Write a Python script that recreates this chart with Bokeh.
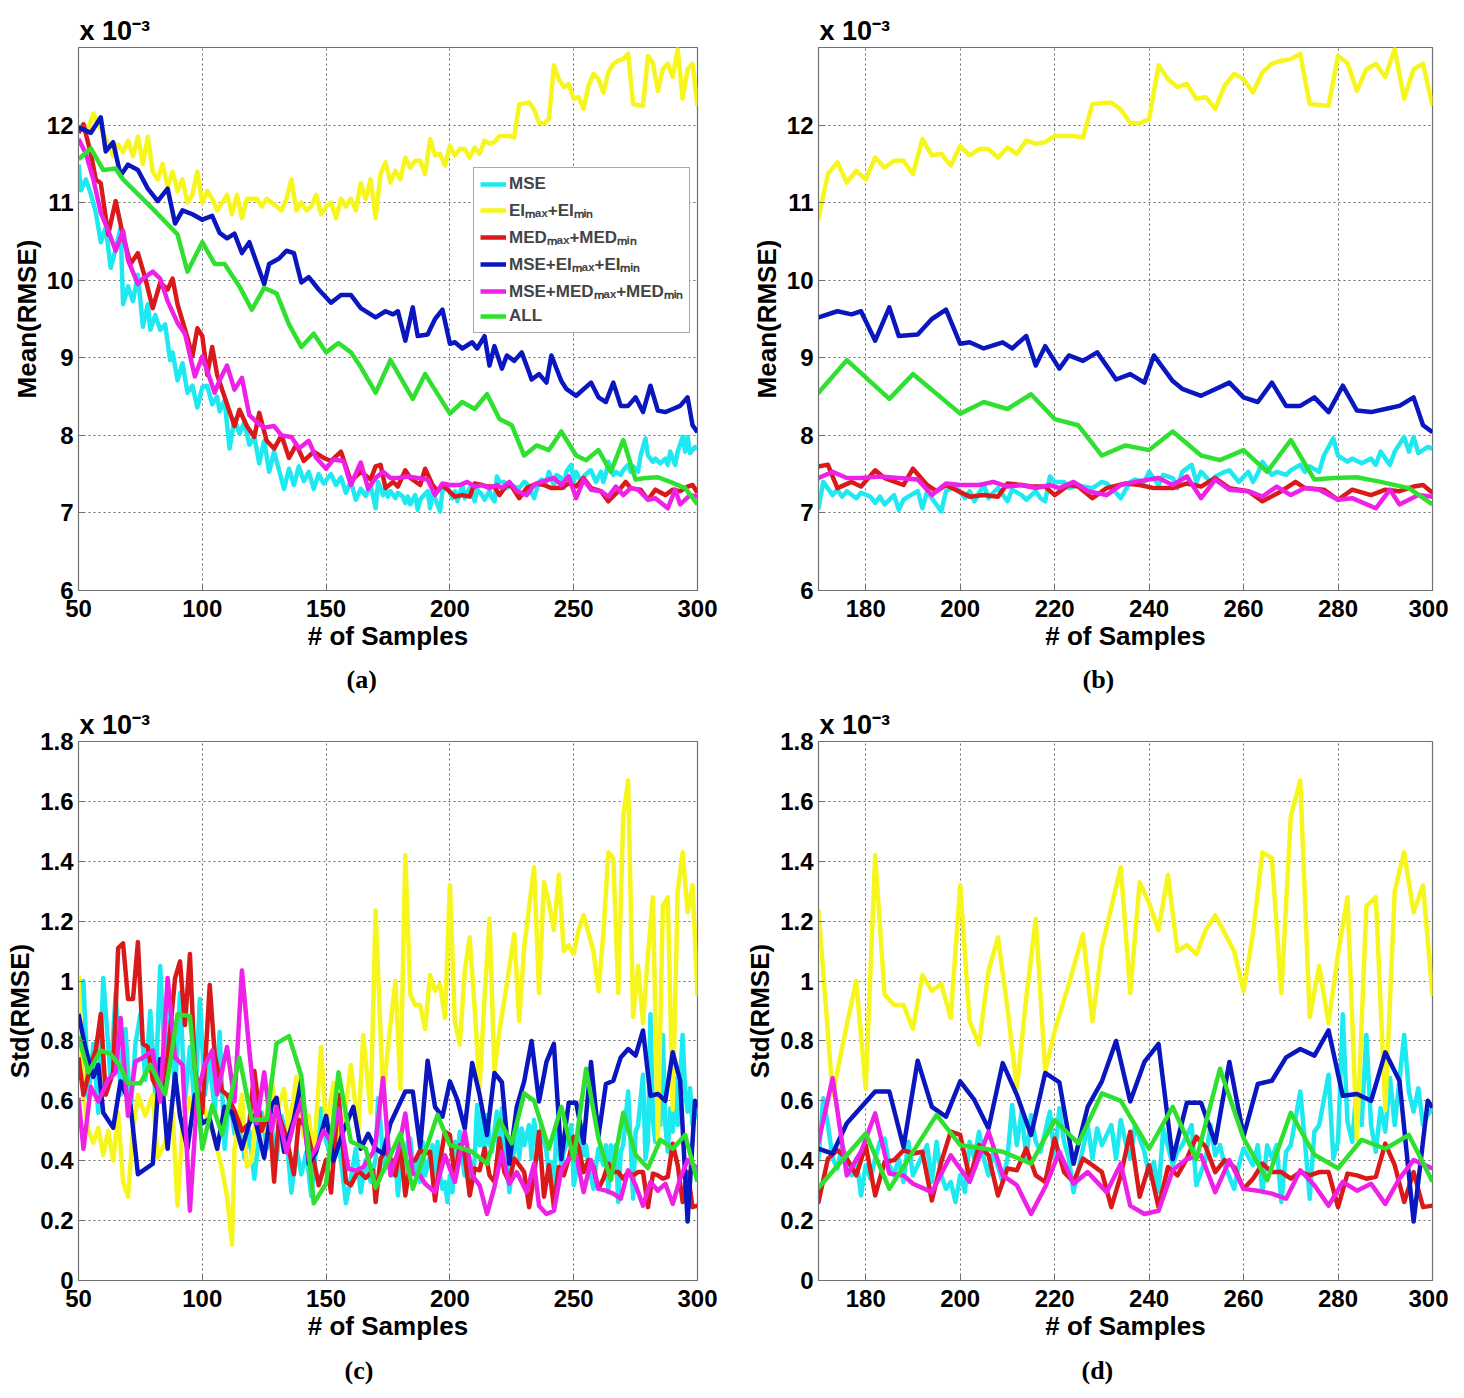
from bokeh.plotting import figure
from bokeh.models import Range1d, FixedTicker, Legend, LegendItem, Title, CustomJSTickFormatter
from bokeh.layouts import column, row
from bokeh.embed import file_html
from bokeh.resources import INLINE

# ---------------- data (x = # of samples, value in units of 1e-3) ----------------
series_names = ["MSE", "EIₘₐₓ+EIₘᵢₙ", "MEDₘₐₓ+MEDₘᵢₙ", "MSE+EIₘₐₓ+EIₘᵢₙ", "MSE+MEDₘₐₓ+MEDₘᵢₙ", "ALL"]
series_colors = ["#1EE8F0", "#F6F61E", "#DA1A1A", "#0A16BE", "#EE22E6", "#30E030"]

mean_mse = [(50, 11.49), (51, 11.16), (53, 11.30), (55, 11.11), (57, 10.87), (59, 10.49), (61, 10.68), (63, 10.16),
            (65, 10.40), (67, 10.68), (68, 9.69), (70, 9.92), (72, 9.73), (74, 10.07), (76, 9.40), (78, 9.69),
            (79, 9.36), (81, 9.55), (83, 9.36), (85, 9.43), (87, 8.97), (88, 9.07), (90, 8.71), (92, 8.93),
            (94, 8.55), (96, 8.64), (98, 8.36), (100, 8.62), (102, 8.64), (104, 8.40), (106, 8.50), (107, 8.31),
            (109, 8.45), (111, 7.83), (113, 8.21), (115, 8.02), (117, 8.17), (119, 7.88), (121, 7.98), (123, 7.64),
            (125, 7.93), (127, 7.53), (129, 7.79), (131, 7.55), (133, 7.31), (135, 7.57), (137, 7.36), (139, 7.60),
            (141, 7.41), (143, 7.53), (145, 7.31), (147, 7.50), (149, 7.38), (152, 7.50), (154, 7.36), (156, 7.46),
            (158, 7.26), (160, 7.41), (162, 7.17), (164, 7.31), (166, 7.22), (168, 7.36), (170, 7.06), (171, 7.40),
            (173, 7.23), (174, 7.30), (175, 7.21), (176, 7.28), (178, 7.19), (179, 7.26), (181, 7.21), (182, 7.13),
            (183, 7.21), (184, 7.11), (186, 7.23), (187, 7.04), (188, 7.17), (189, 7.21), (191, 7.28), (192, 7.06),
            (193, 7.28), (194, 7.19), (196, 7.02), (197, 7.28), (198, 7.32), (199, 7.34), (201, 7.19), (202, 7.28),
            (203, 7.15), (205, 7.36), (206, 7.19), (207, 7.26), (208, 7.32), (210, 7.15), (211, 7.30), (213, 7.23),
            (214, 7.17), (216, 7.28), (217, 7.19), (218, 7.15), (219, 7.47), (220, 7.40), (222, 7.40), (223, 7.32),
            (225, 7.36), (226, 7.34), (228, 7.32), (230, 7.40), (231, 7.38), (233, 7.26), (234, 7.19), (236, 7.40),
            (237, 7.43), (239, 7.40), (240, 7.53), (242, 7.36), (243, 7.49), (245, 7.45), (246, 7.32), (247, 7.53),
            (249, 7.62), (250, 7.40), (251, 7.53), (253, 7.40), (254, 7.47), (256, 7.53), (257, 7.55), (259, 7.40),
            (261, 7.53), (262, 7.40), (263, 7.51), (264, 7.66), (266, 7.49), (267, 7.53), (269, 7.49), (270, 7.55),
            (272, 7.62), (273, 7.53), (274, 7.60), (276, 7.53), (277, 7.74), (279, 7.96), (280, 7.74), (282, 7.66),
            (283, 7.70), (285, 7.64), (287, 7.70), (288, 7.62), (289, 7.79), (291, 7.62), (292, 7.79), (294, 7.98),
            (295, 7.79), (296, 7.98), (297, 7.77), (299, 7.85), (300, 7.83)]

mean_ei = [(50, 11.95), (52, 12.0), (54, 11.95), (56, 12.15), (58, 12.0), (60, 11.9), (62, 11.75), (64, 11.6),
           (66, 11.75), (68, 11.65), (70, 11.8), (72, 11.6), (74, 11.85), (76, 11.5), (78, 11.85), (80, 11.4),
           (82, 11.3), (84, 11.5), (86, 11.2), (88, 11.4), (90, 11.15), (92, 11.3), (94, 11.0), (96, 11.1),
           (98, 11.4), (100, 11.0), (102, 11.15), (104, 11.05), (106, 10.9), (108, 11.0), (110, 11.1), (112, 10.85),
           (114, 11.1), (116, 10.8), (118, 11.05), (120, 11.05), (122, 11.05), (124, 10.95), (126, 11.05), (128, 11.0),
           (130, 10.95), (132, 10.9), (134, 11.05), (136, 11.3), (138, 10.9), (140, 11.0), (142, 10.9), (144, 10.95),
           (146, 11.1), (148, 10.85), (150, 10.95), (152, 11.0), (154, 10.8), (156, 11.05), (158, 10.95), (160, 11.05),
           (162, 10.9), (164, 11.25), (166, 11.05), (168, 11.3), (170, 10.8), (172, 11.37), (174, 11.52), (176, 11.26),
           (178, 11.41), (180, 11.30), (182, 11.58), (184, 11.45), (186, 11.54), (188, 11.54), (190, 11.37), (192, 11.82),
           (194, 11.61), (196, 11.63), (198, 11.48), (200, 11.73), (202, 11.61), (204, 11.69), (206, 11.69), (208, 11.58),
           (210, 11.71), (212, 11.63), (214, 11.80), (216, 11.76), (218, 11.78), (220, 11.86), (222, 11.86), (224, 11.86),
           (226, 11.84), (228, 12.27), (230, 12.28), (232, 12.29), (234, 12.2), (236, 12.03), (238, 12.02), (240, 12.08),
           (242, 12.77), (244, 12.59), (246, 12.49), (248, 12.53), (250, 12.34), (252, 12.36), (254, 12.21), (256, 12.51),
           (258, 12.66), (260, 12.59), (262, 12.42), (264, 12.68), (266, 12.79), (268, 12.83), (270, 12.85), (272, 12.92),
           (274, 12.27), (276, 12.26), (278, 12.25), (280, 12.89), (282, 12.80), (284, 12.44), (286, 12.72), (288, 12.79),
           (290, 12.62), (292, 12.98), (294, 12.34), (296, 12.72), (298, 12.79), (300, 12.25)]

mean_med = [(50, 11.9), (52, 12.01), (55, 11.63), (57, 11.3), (59, 11.25), (62, 10.59), (65, 11.02), (68, 10.57),
            (71, 10.21), (74, 10.35), (77, 10.02), (80, 9.64), (83, 9.97), (86, 9.88), (88, 10.02), (90, 9.69),
            (94, 9.26), (96, 9.02), (98, 9.38), (100, 9.28), (102, 8.78), (104, 9.14), (106, 8.78), (110, 8.40),
            (113, 8.12), (115, 8.33), (118, 8.12), (121, 7.98), (123, 8.29), (126, 7.93), (129, 7.83), (132, 8.0),
            (135, 7.71), (138, 7.88), (141, 7.67), (145, 7.79), (149, 7.71), (152, 7.67), (156, 7.79), (160, 7.41),
            (164, 7.53), (168, 7.43), (170, 7.6), (172, 7.62), (174, 7.32), (177, 7.4), (179, 7.34), (182, 7.55),
            (184, 7.45), (188, 7.36), (190, 7.57), (193, 7.36), (195, 7.28), (197, 7.36), (199, 7.3), (202, 7.21),
            (205, 7.23), (208, 7.21), (210, 7.38), (213, 7.36), (215, 7.34), (218, 7.34), (220, 7.23), (223, 7.36),
            (225, 7.34), (228, 7.19), (231, 7.32), (235, 7.38), (238, 7.36), (241, 7.32), (245, 7.32), (248, 7.38),
            (251, 7.34), (254, 7.45), (257, 7.32), (261, 7.28), (264, 7.15), (268, 7.28), (271, 7.40), (273, 7.32),
            (277, 7.30), (280, 7.17), (283, 7.30), (287, 7.23), (290, 7.30), (293, 7.28), (296, 7.34), (298, 7.36),
            (300, 7.26)]

mean_mse_ei = [(50, 11.97), (55, 11.9), (59, 12.1), (61, 11.66), (64, 11.78), (67, 11.35), (70, 11.49), (74, 11.42),
               (78, 11.18), (82, 11.02), (86, 11.18), (89, 10.73), (92, 10.9), (96, 10.85), (100, 10.78), (104, 10.83),
               (107, 10.61), (110, 10.54), (113, 10.6), (116, 10.35), (119, 10.49), (125, 9.95), (127, 10.21),
               (131, 10.28), (134, 10.38), (137, 10.35), (140, 9.97), (143, 10.04), (147, 9.88), (152, 9.71),
               (156, 9.81), (160, 9.81), (164, 9.64), (170, 9.52), (174, 9.6), (177, 9.56), (179, 9.6), (182, 9.22),
               (185, 9.65), (187, 9.28), (191, 9.3), (194, 9.5), (197, 9.62), (200, 9.18), (202, 9.2), (205, 9.12),
               (209, 9.2), (211, 9.12), (214, 9.28), (216, 8.9), (218, 9.15), (221, 8.86), (223, 9.03), (226, 8.96),
               (229, 9.07), (232, 8.81), (233, 8.72), (236, 8.79), (239, 8.68), (241, 9.03), (245, 8.70), (247, 8.60),
               (251, 8.51), (257, 8.68), (260, 8.49), (263, 8.43), (266, 8.68), (269, 8.38), (272, 8.38), (275, 8.49),
               (278, 8.30), (281, 8.64), (284, 8.32), (287, 8.30), (290, 8.34), (293, 8.38), (296, 8.49), (298, 8.13),
               (300, 8.04)]

mean_mse_med = [(50, 11.82), (53, 11.63), (56, 11.3), (59, 10.87), (62, 10.64), (65, 10.38), (68, 10.64), (70, 10.26),
                (74, 9.95), (76, 10.02), (80, 10.11), (83, 10.02), (86, 9.73), (90, 9.45), (93, 9.31), (97, 8.76),
                (100, 9.02), (105, 8.55), (107, 8.71), (110, 8.9), (113, 8.59), (116, 8.74), (119, 8.26), (122, 8.17),
                (125, 8.1), (129, 8.12), (132, 8.0), (136, 7.98), (139, 7.83), (143, 7.93), (146, 7.71), (150, 7.57),
                (153, 7.69), (157, 7.67), (160, 7.36), (164, 7.65), (167, 7.31), (170, 7.45), (173, 7.53), (176, 7.45),
                (179, 7.45), (183, 7.47), (187, 7.45), (191, 7.43), (194, 7.23), (197, 7.38), (200, 7.36), (204, 7.36),
                (207, 7.40), (210, 7.34), (213, 7.36), (216, 7.32), (219, 7.36), (221, 7.32), (224, 7.40), (227, 7.28),
                (231, 7.23), (234, 7.36), (237, 7.40), (242, 7.45), (245, 7.36), (248, 7.47), (251, 7.19), (254, 7.43),
                (257, 7.30), (261, 7.28), (264, 7.21), (267, 7.34), (270, 7.23), (273, 7.32), (276, 7.30), (280, 7.17),
                (283, 7.19), (288, 7.06), (291, 7.30), (293, 7.11), (297, 7.23), (300, 7.21)]

mean_all = [(50, 11.56), (55, 11.7), (60, 11.42), (65, 11.44), (68, 11.3), (74, 11.11), (80, 10.92), (90, 10.59),
            (94, 10.11), (100, 10.49), (105, 10.21), (109, 10.21), (115, 9.92), (120, 9.62), (125, 9.9), (130, 9.83),
            (135, 9.43), (140, 9.14), (145, 9.31), (150, 9.07), (155, 9.19), (160, 9.07), (164, 8.88), (170, 8.55),
            (176, 8.97), (185, 8.47), (190, 8.79), (200, 8.28), (205, 8.43), (210, 8.34), (215, 8.53), (220, 8.21),
            (225, 8.13), (230, 7.74), (235, 7.87), (240, 7.81), (245, 8.05), (251, 7.74), (255, 7.68), (260, 7.81),
            (265, 7.53), (270, 7.94), (275, 7.43), (279, 7.45), (284, 7.46), (289, 7.40), (295, 7.32), (300, 7.11)]

std_mse = [(50, 0.85), (52, 1.0), (54, 0.61), (56, 0.79), (58, 0.56), (60, 1.01), (63, 0.67), (65, 0.96), (67, 0.62),
           (69, 0.84), (71, 0.56), (73, 0.79), (75, 0.89), (77, 0.67), (79, 0.90), (81, 0.62), (83, 1.05), (85, 0.695),
           (87, 0.90), (89, 0.62), (91, 0.96), (93, 0.598), (95, 0.78), (97, 0.574), (99, 0.94), (101, 0.62),
           (103, 0.744), (105, 0.56), (107, 0.83), (109, 0.44), (111, 0.62), (113, 0.49), (115, 0.55), (117, 0.41),
           (119, 0.50), (121, 0.34), (124, 0.56), (126, 0.44), (128, 0.513), (130, 0.403), (132, 0.55), (134, 0.477),
           (136, 0.294), (138, 0.44), (140, 0.355), (142, 0.428), (144, 0.282), (146, 0.44), (148, 0.574), (150, 0.464),
           (152, 0.415), (154, 0.50), (156, 0.403), (158, 0.258), (160, 0.343), (162, 0.44), (164, 0.294), (166, 0.403),
           (168, 0.33), (170, 0.407), (171, 0.609), (172, 0.519), (173, 0.407), (174, 0.374), (175, 0.452), (177, 0.351),
           (178, 0.407), (179, 0.284), (180, 0.385), (181, 0.34), (182, 0.407), (183, 0.463), (184, 0.474), (185, 0.385),
           (186, 0.351), (187, 0.407), (188, 0.329), (189, 0.463), (190, 0.351), (191, 0.385), (193, 0.452), (194, 0.329),
           (195, 0.463), (196, 0.351), (197, 0.306), (198, 0.329), (199, 0.262), (200, 0.351), (201, 0.295), (202, 0.463),
           (203, 0.407), (204, 0.497), (205, 0.407), (206, 0.351), (207, 0.43), (209, 0.329), (210, 0.407), (211, 0.586),
           (212, 0.452), (213, 0.564), (214, 0.407), (215, 0.553), (216, 0.463), (217, 0.43), (219, 0.564), (220, 0.407),
           (221, 0.575), (222, 0.463), (223, 0.407), (224, 0.295), (226, 0.441), (227, 0.519), (228, 0.407), (229, 0.508),
           (230, 0.452), (232, 0.519), (233, 0.407), (234, 0.536), (235, 0.463), (236, 0.407), (237, 0.519), (239, 0.43),
           (240, 0.351), (241, 0.396), (242, 0.295), (243, 0.508), (245, 0.385), (246, 0.43), (247, 0.452), (249, 0.519),
           (250, 0.318), (252, 0.407), (253, 0.519), (254, 0.418), (255, 0.452), (256, 0.385), (258, 0.306), (259, 0.385),
           (260, 0.441), (262, 0.385), (263, 0.452), (264, 0.295), (265, 0.452), (266, 0.407), (267, 0.452), (268, 0.262),
           (269, 0.43), (270, 0.452), (272, 0.631), (273, 0.463), (274, 0.273), (275, 0.497), (276, 0.519), (278, 0.687),
           (279, 0.407), (280, 0.463), (281, 0.889), (282, 0.53), (283, 0.463), (284, 0.653), (285, 0.519), (286, 0.82),
           (287, 0.519), (288, 0.43), (289, 0.575), (290, 0.497), (291, 0.676), (292, 0.519), (294, 0.82), (295, 0.631),
           (296, 0.564), (297, 0.642), (298, 0.519), (299, 0.553), (300, 0.575)]

std_ei = [(50, 1.02), (52, 0.62), (54, 0.50), (56, 0.46), (58, 0.51), (60, 0.42), (62, 0.50), (64, 0.40), (66, 0.56),
          (68, 0.33), (70, 0.28), (72, 0.50), (74, 0.62), (77, 0.55), (80, 0.62), (82, 0.41), (85, 0.46), (88, 0.56),
          (90, 0.25), (92, 0.51), (95, 0.61), (97, 0.52), (100, 0.60), (102, 0.54), (104, 0.50), (106, 0.44), (108, 0.37),
          (110, 0.28), (112, 0.12), (113, 0.44), (116, 0.62), (118, 0.38), (120, 0.40), (122, 0.585), (125, 0.50),
          (128, 0.67), (130, 0.56), (133, 0.64), (135, 0.50), (138, 0.68), (141, 0.48), (143, 0.55), (145, 0.41),
          (148, 0.78), (150, 0.50), (153, 0.66), (155, 0.46), (157, 0.52), (160, 0.72), (163, 0.50), (165, 0.82),
          (168, 0.56), (170, 1.236), (173, 0.62), (176, 0.855), (178, 1.0), (180, 0.64), (182, 1.42), (184, 0.955),
          (186, 0.92), (188, 0.92), (190, 0.84), (192, 1.02), (194, 0.967), (196, 0.99), (198, 0.877), (200, 1.32),
          (202, 0.866), (204, 0.788), (206, 1.034), (208, 1.146), (210, 0.911), (212, 0.642), (214, 0.945), (216, 1.208),
          (218, 0.698), (220, 0.833), (223, 0.99), (226, 1.157), (228, 0.866), (230, 1.113), (234, 1.38), (236, 0.96),
          (238, 1.33), (240, 1.26), (242, 1.17), (244, 1.355), (246, 1.10), (248, 1.12), (250, 1.09), (252, 1.17),
          (254, 1.22), (256, 1.16), (258, 1.10), (260, 0.966), (262, 1.16), (264, 1.43), (266, 1.41), (268, 0.96),
          (270, 1.55), (272, 1.67), (274, 0.88), (276, 1.05), (278, 0.86), (280, 1.09), (282, 1.28), (284, 0.47),
          (286, 1.25), (288, 1.28), (290, 0.57), (292, 1.30), (294, 1.43), (296, 1.23), (298, 1.32), (300, 0.95)]

std_med = [(50, 0.745), (52, 0.62), (55, 0.72), (57, 0.77), (59, 0.89), (61, 0.62), (64, 0.695), (66, 1.11), (68, 1.126),
           (70, 0.94), (72, 0.94), (74, 1.13), (76, 0.79), (78, 0.78), (80, 0.67), (83, 0.62), (86, 0.745), (89, 1.01),
           (91, 1.066), (93, 0.853), (95, 1.09), (97, 0.707), (100, 0.56), (103, 0.987), (105, 0.756), (108, 0.634),
           (110, 0.62), (113, 0.567), (116, 0.50), (119, 0.525), (121, 0.70), (124, 0.50), (127, 0.567), (129, 0.33),
           (131, 0.55), (134, 0.477), (137, 0.355), (139, 0.537), (142, 0.513), (145, 0.403), (147, 0.318), (150, 0.403),
           (152, 0.294), (155, 0.62), (158, 0.33), (160, 0.318), (163, 0.367), (166, 0.343), (169, 0.367), (170, 0.262),
           (172, 0.407), (174, 0.435), (176, 0.407), (178, 0.351), (180, 0.452), (182, 0.284), (184, 0.396), (186, 0.402),
           (188, 0.435), (190, 0.424), (192, 0.43), (194, 0.267), (196, 0.396), (198, 0.497), (200, 0.486), (202, 0.34),
           (204, 0.452), (206, 0.418), (208, 0.284), (210, 0.374), (212, 0.368), (214, 0.441), (216, 0.351), (218, 0.329),
           (220, 0.474), (222, 0.362), (224, 0.329), (226, 0.407), (228, 0.385), (230, 0.362), (232, 0.245), (234, 0.351),
           (236, 0.497), (238, 0.28), (240, 0.385), (242, 0.245), (244, 0.379), (246, 0.351), (248, 0.407), (250, 0.48),
           (252, 0.446), (254, 0.362), (256, 0.402), (258, 0.379), (260, 0.306), (262, 0.34), (264, 0.39), (266, 0.362),
           (268, 0.362), (270, 0.34), (272, 0.362), (274, 0.351), (276, 0.362), (278, 0.362), (280, 0.245), (282, 0.357),
           (284, 0.351), (286, 0.34), (288, 0.346), (290, 0.457), (292, 0.385), (294, 0.262), (296, 0.362), (298, 0.245),
           (300, 0.25)]

std_mse_ei = [(50, 0.89), (53, 0.77), (56, 0.68), (58, 0.72), (60, 0.56), (64, 0.51), (67, 0.665), (71, 0.585),
              (74, 0.355), (80, 0.39), (83, 0.74), (86, 0.44), (89, 0.69), (91, 0.55), (94, 0.44), (97, 0.62),
              (100, 0.525), (103, 0.54), (106, 0.44), (109, 0.58), (112, 0.56), (116, 0.44), (119, 0.525), (121, 0.55),
              (125, 0.41), (128, 0.585), (130, 0.61), (133, 0.43), (137, 0.54), (140, 0.67), (143, 0.39), (146, 0.43),
              (150, 0.55), (153, 0.40), (157, 0.50), (161, 0.58), (164, 0.44), (167, 0.49), (170, 0.44), (173, 0.424),
              (176, 0.525), (182, 0.631), (185, 0.631), (188, 0.446), (191, 0.734), (194, 0.58), (197, 0.547),
              (200, 0.665), (203, 0.603), (206, 0.508), (209, 0.726), (212, 0.62), (215, 0.486), (218, 0.693),
              (221, 0.662), (224, 0.39), (227, 0.58), (230, 0.665), (233, 0.8), (236, 0.598), (239, 0.73), (242, 0.79),
              (245, 0.405), (248, 0.594), (251, 0.594), (254, 0.46), (257, 0.73), (260, 0.482), (263, 0.656),
              (266, 0.667), (269, 0.745), (272, 0.773), (275, 0.751), (278, 0.835), (281, 0.617), (284, 0.623),
              (287, 0.60), (290, 0.762), (293, 0.667), (296, 0.197), (299, 0.60), (300, 0.578)]

std_mse_med = [(50, 0.61), (52, 0.44), (55, 0.646), (58, 0.598), (60, 0.634), (62, 0.67), (65, 0.695), (67, 0.877),
               (70, 0.55), (73, 0.731), (76, 0.744), (80, 0.768), (83, 0.598), (86, 1.01), (89, 0.744), (92, 0.72),
               (95, 0.233), (98, 0.622), (101, 0.72), (104, 0.768), (106, 0.622), (110, 0.78), (113, 0.598),
               (116, 1.035), (119, 0.768), (122, 0.525), (125, 0.695), (128, 0.50), (130, 0.58), (134, 0.428),
               (137, 0.525), (140, 0.598), (143, 0.403), (146, 0.44), (149, 0.50), (152, 0.464), (155, 0.574),
               (159, 0.373), (162, 0.367), (165, 0.379), (169, 0.428), (170, 0.463), (173, 0.676), (176, 0.351),
               (179, 0.43), (182, 0.558), (185, 0.357), (188, 0.351), (190, 0.323), (194, 0.295), (198, 0.418),
               (202, 0.329), (206, 0.497), (209, 0.351), (212, 0.318), (215, 0.222), (218, 0.312), (221, 0.43),
               (224, 0.323), (227, 0.362), (231, 0.295), (234, 0.39), (236, 0.25), (239, 0.222), (242, 0.233),
               (245, 0.368), (248, 0.407), (251, 0.418), (254, 0.295), (257, 0.402), (260, 0.306), (263, 0.30),
               (266, 0.29), (269, 0.273), (272, 0.368), (275, 0.318), (278, 0.25), (281, 0.329), (284, 0.30),
               (287, 0.323), (290, 0.256), (293, 0.34), (296, 0.402), (300, 0.374)]

std_all = [(50, 0.816), (54, 0.695), (59, 0.768), (63, 0.756), (67, 0.713), (70, 0.659), (75, 0.659), (79, 0.72),
           (85, 0.622), (90, 0.889), (95, 0.883), (100, 0.44), (104, 0.585), (108, 0.488), (115, 0.744), (120, 0.537),
           (126, 0.537), (130, 0.792), (135, 0.816), (140, 0.683), (145, 0.258), (150, 0.324), (155, 0.695),
           (160, 0.464), (166, 0.44), (170, 0.31), (180, 0.491), (185, 0.306), (195, 0.553), (200, 0.452), (203, 0.446),
           (209, 0.43), (215, 0.39), (220, 0.536), (225, 0.458), (230, 0.625), (234, 0.6), (240, 0.44), (245, 0.58),
           (250, 0.405), (255, 0.707), (260, 0.475), (265, 0.335), (270, 0.56), (275, 0.42), (280, 0.375), (285, 0.47),
           (290, 0.44), (295, 0.486), (300, 0.33)]

mean_series = [mean_mse, mean_ei, mean_med, mean_mse_ei, mean_mse_med, mean_all]
std_series = [std_mse, std_ei, std_med, std_mse_ei, std_mse_med, std_all]

mean_ticks = [6, 7, 8, 9, 10, 11, 12]
std_ticks = [0, 0.2, 0.4, 0.6, 0.8, 1.0, 1.2, 1.4, 1.6, 1.8]
full_xticks = [50, 100, 150, 200, 250, 300]
zoom_xticks = [180, 200, 220, 240, 260, 280, 300]

FONT = "Liberation Sans"
FRAME = "#707070"


def make_panel(series, x_rng, y_rng, xticks, yticks, ylabel, caption, cap_offset, cap_standoff,
               width, mbl, mbr, height, mbt, mbb, legend=False, std=False):
    p = figure(width=width, height=height, x_range=Range1d(*x_rng), y_range=Range1d(*y_rng),
               output_backend="svg", toolbar_location=None,
               min_border_left=mbl, min_border_right=mbr, min_border_top=mbt, min_border_bottom=mbb)
    p.background_fill_color = "white"
    p.border_fill_color = "white"
    p.outline_line_color = FRAME
    p.outline_line_width = 1.2

    p.title.text = "x 10⁻³"
    p.title.align = "left"
    p.title.offset = 1
    p.title.standoff = 3
    p.title.text_font = FONT
    p.title.text_font_size = "27px"
    p.title.text_font_style = "bold"
    p.title.text_color = "black"

    renderers = []
    for data, color in zip(series, series_colors):
        xs = [a for a, b in data]
        ys = [b for a, b in data]
        r = p.line(xs, ys, line_color=color, line_width=4.5, line_join="round")
        renderers.append(r)

    p.xaxis.ticker = FixedTicker(ticks=xticks)
    p.yaxis.ticker = FixedTicker(ticks=yticks)
    if std:
        p.yaxis.formatter = CustomJSTickFormatter(code="return (Math.round(tick*10)/10).toString();")
    p.xaxis.axis_label = "# of Samples"
    p.yaxis.axis_label = ylabel
    for ax in (p.xaxis, p.yaxis):
        ax.axis_line_color = FRAME
        ax.major_tick_line_color = FRAME
        ax.major_tick_in = 6
        ax.major_tick_out = 0
        ax.minor_tick_line_color = None
        ax.major_label_text_font = FONT
        ax.major_label_text_font_size = "24px"
        ax.major_label_text_font_style = "bold"
        ax.major_label_text_color = "black"
        ax.axis_label_text_font = FONT
        ax.axis_label_text_font_size = "26px"
        ax.axis_label_text_font_style = "bold"
        ax.axis_label_text_color = "black"
    p.xaxis.major_label_standoff = 9
    p.xaxis.axis_label_standoff = 1
    p.yaxis.major_label_standoff = 5
    p.yaxis.axis_label_standoff = 2

    for g in (p.xgrid, p.ygrid):
        g.grid_line_color = "#505050"
        g.grid_line_dash = "2 3"
        g.grid_line_width = 1
        g.grid_line_alpha = 0.85

    p.add_layout(Title(text=caption, align="left", offset=cap_offset, standoff=cap_standoff,
                       text_font="Liberation Serif", text_font_size="26px", text_font_style="bold",
                       text_color="black"), "below")

    if legend:
        items = [LegendItem(label=n, renderers=[r]) for n, r in zip(series_names, renderers)]
        lg = Legend(items=items, location=(395, 257))
        lg.margin = 0
        lg.padding = 6
        lg.spacing = 4
        lg.glyph_width = 26
        lg.glyph_height = 20
        lg.label_height = 20
        lg.label_standoff = 3
        lg.label_text_font = FONT
        lg.label_text_font_size = "17px"
        lg.label_text_font_style = "bold"
        lg.border_line_color = "#555555"
        lg.border_line_width = 1
        lg.background_fill_color = "white"
        lg.background_fill_alpha = 1.0
        p.add_layout(lg)
    return p


pA = make_panel(mean_series, (50, 300), (6, 13), full_xticks, mean_ticks, "Mean(RMSE)", "(a)", 268, 19,
                740, 78, 43, 705, 47, 115, legend=True)
pB = make_panel(mean_series, (170, 300), (6, 13), zoom_xticks, mean_ticks, "Mean(RMSE)", "(b)", 264, 19,
                708, 78, 16, 705, 47, 115)
pC = make_panel(std_series, (50, 300), (0, 1.8), full_xticks, std_ticks, "Std(RMSE)", "(c)", 266, 21,
                740, 78, 43, 691, 36, 116, std=True)
pD = make_panel(std_series, (170, 300), (0, 1.8), zoom_xticks, std_ticks, "Std(RMSE)", "(d)", 263, 21,
                708, 78, 16, 691, 36, 116, std=True)

layout = column(row(pA, pB), row(pC, pD))
open("out.html", "w").write(file_html(layout, INLINE))
